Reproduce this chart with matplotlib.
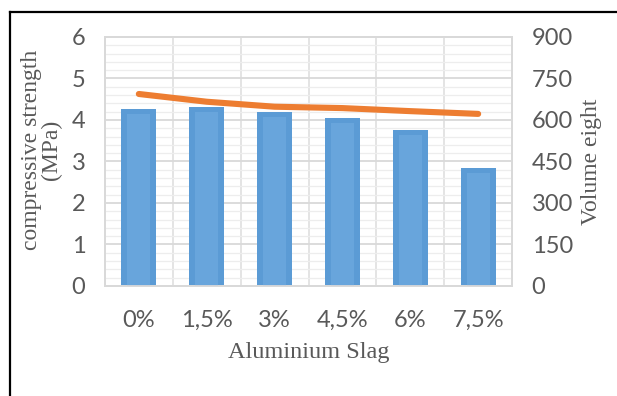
import matplotlib.pyplot as plt
from matplotlib.lines import Line2D
from matplotlib.ticker import MultipleLocator
import numpy as np

categories = ['0%', '1,5%', '3%', '4,5%', '6%', '7,5%']
strength = [4.27, 4.32, 4.2, 4.05, 3.76, 2.85]
volume_weight = [694, 666, 648, 643, 632, 622]

bar_color = '#5B9BD5'
bar_inner = '#68A5DC'
line_color = '#ED7D31'
text_gray = '#595959'

fig = plt.figure(figsize=(6.17, 3.96), dpi=100)
ax = fig.add_axes([0.170, 0.2778, 0.660, 0.6288])
ax2 = ax.twinx()

x = np.arange(len(categories))

# light grid: minor every 0.2, major every 1, vertical lines at half categories
ax.set_ylim(0, 6)
ax.set_xlim(-0.5, len(categories) - 0.5)
ax.yaxis.set_major_locator(MultipleLocator(1))
ax.yaxis.set_minor_locator(MultipleLocator(0.2))
ax.xaxis.set_minor_locator(MultipleLocator(0.5))
ax.grid(which='major', axis='y', color='#D9D9D9', lw=1.3, zorder=0)
ax.grid(which='minor', axis='y', color='#EDEDED', lw=0.9, zorder=0)
ax.grid(which='minor', axis='x', color='#E2E2E2', lw=1.3, zorder=0)
ax.set_axisbelow(True)

# bars with a slightly lighter inner face
ax.bar(x, strength, width=0.52, color=bar_color, zorder=2)
ax.bar(x, [s - 0.12 for s in strength], width=0.34, color=bar_inner, zorder=3)

ax2.set_ylim(0, 900)
ax2.yaxis.set_major_locator(MultipleLocator(150))
ax2.plot(x, volume_weight, color=line_color, lw=4.4, solid_capstyle='round', zorder=4)

ax.set_xticks(x)
ax.set_xticklabels(categories)
for a in (ax, ax2):
    for s in a.spines.values():
        s.set_color('#D9D9D9')
        s.set_linewidth(1.3)
    a.tick_params(which='both', length=0, colors=text_gray, labelsize=17)
    for lbl in a.get_xticklabels() + a.get_yticklabels():
        lbl.set_family('Lato')
ax.tick_params(axis='y', pad=14)
ax2.tick_params(axis='y', pad=14)
ax.tick_params(axis='x', pad=17)

ax.set_xlabel('Aluminium Slag', family='Liberation Serif', fontsize=17.5,
              color=text_gray, labelpad=8)
ax.set_ylabel('compressive strength\n(MPa)', family='Liberation Serif', fontsize=17,
              color=text_gray, linespacing=0.95)
ax.yaxis.set_label_coords(-0.105, 0.545)
ax2.set_ylabel('Volume eight', family='Liberation Serif', fontsize=17,
               color=text_gray, labelpad=6)

# frame lines around the figure
fig.add_artist(Line2D([10 / 617, 10 / 617], [0, 1 - 12 / 396], color='black', lw=1.6))
fig.add_artist(Line2D([10 / 617, 1], [1 - 12 / 396, 1 - 12 / 396], color='black', lw=1.6))

fig.savefig('out.png', dpi=100)
